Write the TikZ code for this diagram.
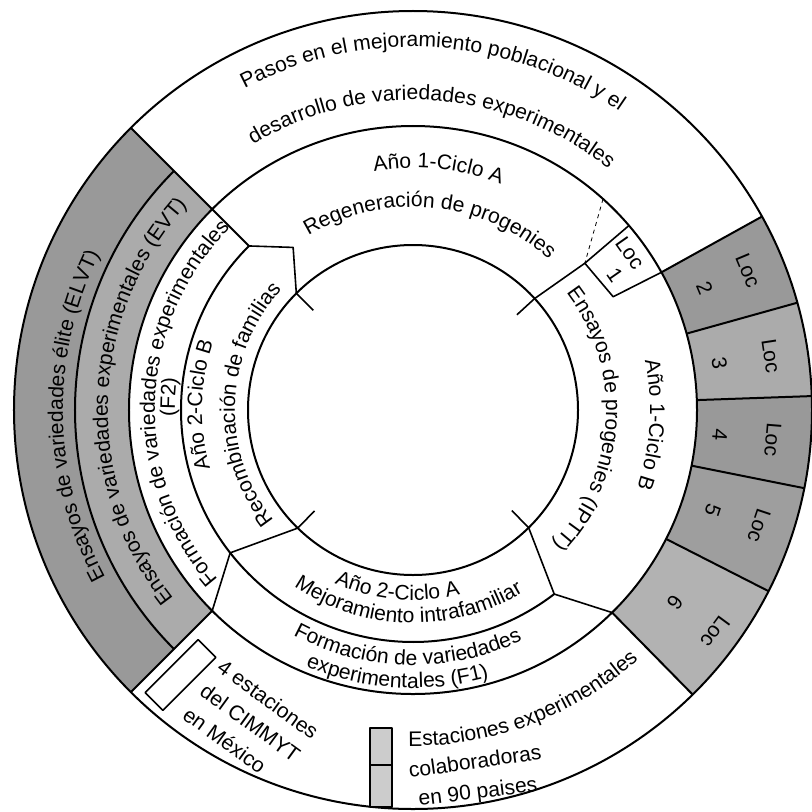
\documentclass[tikz,border=0pt]{standalone}
\usepackage{fontspec}
\setmainfont{Liberation Sans}
\usetikzlibrary{decorations.text}
\newcommand{\tf}{\fontsize{15.8}{18}\selectfont}
\newcommand{\annsec}[5]{\fill[#5] (#1:#3) arc[start angle=#1,end angle=#2,radius=#3] -- (#2:#4) arc[start angle=#2,end angle=#1,radius=#4] -- cycle;}
\newcommand{\cwtext}[3]{\path[decorate,decoration={text along path,text align=center,text={|\tf|#3}}] ({#2+75}:#1) arc[start angle={#2+75},end angle={#2-75},radius=#1];}
\newcommand{\ccwtext}[3]{\path[decorate,decoration={text along path,text align=center,text={|\tf|#3}}] ({#2-75}:#1) arc[start angle={#2-75},end angle={#2+75},radius=#1];}
\begin{document}
\begin{tikzpicture}[x=0.75pt,y=0.75pt,
  every node/.style={font=\tf,inner sep=0pt},
  ring/.style={line width=1.5pt,line join=round},
  fine/.style={line width=1.2pt,line join=round}]
\useasboundingbox (-413,-401) rectangle (399,410);
\fill[white] (-413,-401) rectangle (399,410);
% shaded sectors
\annsec{135}{225}{338}{399}{black!40}
\annsec{135}{225}{284}{338}{black!33}
\annsec{15.6}{29}{284}{399}{black!40}
\annsec{2}{15.6}{284}{399}{black!33}
\annsec{-11.3}{2}{284}{399}{black!40}
\annsec{-27}{-11.3}{284}{399}{black!38}
\annsec{-45.5}{-27}{284}{399}{black!30}
% circles and arcs
\draw[ring] (0,0) circle[radius=399];
\draw[ring] (0,0) circle[radius=284];
\draw[ring] (0,0) circle[radius=165];
\draw[ring] (225:338) arc[start angle=225,end angle=135,radius=338];
\draw[ring] (135:232) arc[start angle=135,end angle=307.5,radius=232];
\draw[ring] (135:232) -- (135:399);
\draw[ring] (225:284) -- (225:399);
\foreach \a in {29,15.6,2,-11.3,-27,-45.5} \draw[ring] (\a:284) -- (\a:399);
% arrow-like boundaries
\draw[fine] (135:232) -- (126.4:202) -- (135:165) -- (135:141);
\draw[fine] (42.5:141) -- (42.5:165) -- (40.5:226) -- (40.5:284);
\draw[fine] (40.5:226) -- (29.5:230) -- (29:284);
\draw[dashed,line width=0.6pt] (48:284) -- (40.5:226);
\draw[fine] (-45.5:141) -- (-45.5:165) -- (-52.5:232) -- (-45.5:284);
\draw[fine] (225.7:141) -- (225.7:165) -- (218:232) -- (225:284);
% legend boxes
\draw[fine,shift={(-232.5,-265)},rotate=45] (-37.5,-12.5) rectangle (37.5,12.5);
\filldraw[fine,fill=black!20] (-43,-397) rectangle (-21,-318);
\draw[fine] (-43,-355) -- (-21,-355);
% curved texts: top
\cwtext{363}{86.5}{Pasos en el mejoramiento poblacional y el}
\cwtext{310}{86}{desarrollo de variedades experimentales}
\cwtext{242}{84}{Año 1-Ciclo A}
\cwtext{203}{84.5}{Regeneración de progenies}
% right
\cwtext{237}{-3.5}{Año 1-Ciclo B}
\cwtext{193}{-3.2}{Ensayos de progenies (IPTT)}
% left
\cwtext{350}{181}{Ensayos de variedades élite (ELVT)}
\cwtext{305}{178}{Ensayos de variedades experimentales (EVT)}
\cwtext{258}{178}{Formación de variedades experimentales}
\cwtext{238}{177}{(F2)}
\cwtext{211}{178.6}{Año 2-Ciclo B}
\cwtext{178}{178}{Recombinación de familias}
% bottom
\ccwtext{190}{265}{Año 2-Ciclo A}
\ccwtext{213}{268.6}{Mejoramiento intrafamiliar}
\ccwtext{255}{268.7}{Formación de variedades}
\ccwtext{278}{266.6}{experimentales  (F1)}
\ccwtext{336}{290.7}{Estaciones experimentales}
% Loc labels
\node[rotate=-55] (loc1) at (35.9:268) {Loc};
\node[rotate=-55] (num1) at (33.8:243) {1};
\foreach \a/\n/\ro/\ri in {22.6/2/363/316,8.6/3/362/310,-4.7/4/361/308,-18.5/5/365/316,-36.3/6/375/325}{
  \node[rotate=\a-90] (loc\n) at (\a:\ro) {Loc};
  \node[rotate=\a-90] (num\n) at (\a:\ri) {\n};
}
% straight legend texts
\node[rotate=-36,align=left,font=\fontsize{15.8}{22}\selectfont] (cimmyt) at (-162,-313) {4 estaciones\\del CIMMYT\\en México};
\node[rotate=8] (colab) at (62,-351) {colaboradoras};
\node[rotate=7] (paises) at (65,-383) {en 90 paises};
\end{tikzpicture}
\end{document}
